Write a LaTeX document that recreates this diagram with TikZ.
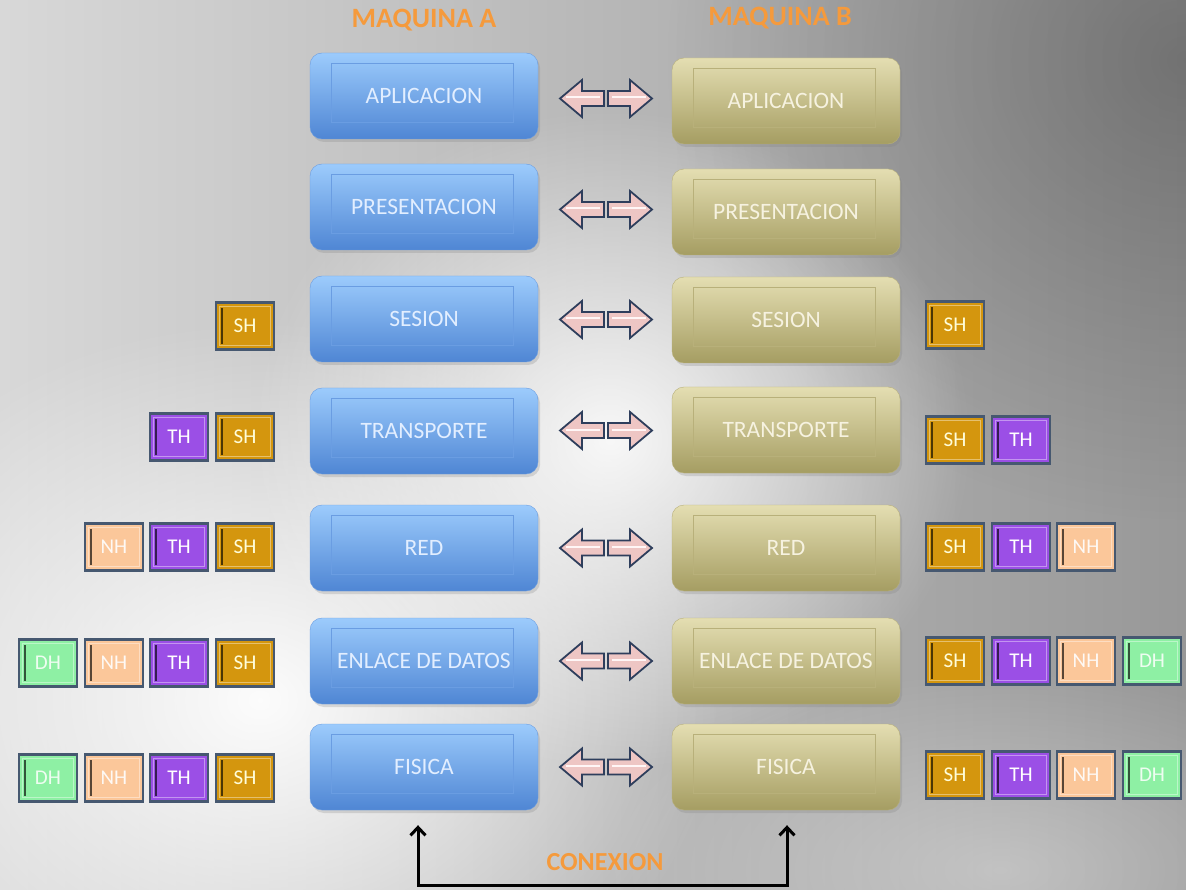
\documentclass[tikz,border=0pt]{standalone}
\usepackage{fontspec}
\setmainfont{Carlito}
\usetikzlibrary{calc,fadings,arrows.meta,shadows}
\tikzfading[name=softspot, inner color=transparent!0, outer color=transparent!100]
\definecolor{bgL}{HTML}{D8D8D8}
\definecolor{bgR}{HTML}{989898}
\definecolor{aTop}{HTML}{9CCBFC}
\definecolor{aMid}{HTML}{80B4F2}
\definecolor{aBot}{HTML}{4F86D4}
\definecolor{aLine}{HTML}{6A9DE2}
\definecolor{aText}{HTML}{E2EEFF}
\definecolor{bTop}{HTML}{E4DEB2}
\definecolor{bMid}{HTML}{D6D0A0}
\definecolor{bBot}{HTML}{A59D62}
\definecolor{bLine}{HTML}{B8B07A}
\definecolor{bText}{HTML}{F6F2E0}
\definecolor{cSH}{HTML}{D4960E}
\definecolor{cTH}{HTML}{9B4FE6}
\definecolor{cNH}{HTML}{FBC79A}
\definecolor{cDH}{HTML}{8EF0A4}
\definecolor{hdrB}{HTML}{465870}
\definecolor{arrF}{HTML}{EEC6C4}
\definecolor{arrL}{HTML}{2E3E5C}
\definecolor{ttl}{HTML}{F59A3C}
\tikzset{
  layerbox/.style={rounded corners=12pt, minimum width=228pt, minimum height=86pt,
    inner sep=0pt, font=\fontsize{23.5}{26}\selectfont,
    drop shadow={opacity=0.25, shadow xshift=2pt, shadow yshift=-3pt}},
  boxA/.style={layerbox, top color=aTop, middle color=aMid, bottom color=aBot, draw=aLine, text=aText},
  boxB/.style={layerbox, top color=bTop, middle color=bMid, bottom color=bBot, draw=bLine, text=bText},
  hdr/.style={draw=hdrB, line width=2.5pt, minimum width=58pt, minimum height=47pt,
    inner sep=0pt, font=\fontsize{21}{23}\selectfont},
  arrpart/.style={fill=arrF, draw=arrL, line width=1.8pt, line join=miter},
  ttlstyle/.style={font=\bfseries\fontsize{28}{30}\selectfont, text=ttl},
  conn/.style={line width=3pt, {Straight Barb[length=8pt,width=15pt]}-{Straight Barb[length=8pt,width=15pt]},
    shorten <=15pt, shorten >=15pt},
}
\newcommand\hdrbox[6]{% name, x, y, color, textcolor, text
  \node[hdr, fill=#4, text=#5] (#1) at (#2,#3) {#6};
  \draw[#4!60!white, line width=1pt] ([shift={(5,5)}]#1.north west) rectangle ([shift={(-5,-5)}]#1.south east);
  \draw[#4!35!black, line width=1.5pt] ([shift={(7,7)}]#1.north west) -- ([shift={(7,-7)}]#1.south west);
}
\newcommand\dblarr[1]{%
  \draw[arrpart] ($(#1)+(-2,-7.5)$) -- ++(-22,0) -- ++(0,-11) -- ++(-22,18.5) -- ++(22,18.5) -- ++(0,-11) -- ++(22,0) -- cycle;
  \draw[arrpart] ($(#1)+(2,-7.5)$) -- ++(22,0) -- ++(0,-11) -- ++(22,18.5) -- ++(-22,18.5) -- ++(0,-11) -- ++(-22,0) -- cycle;
  \draw[white!85!pink, line width=2pt] ($(#1)+(-6,-1)$) -- ++(-34,0);
  \draw[white!85!pink, line width=2pt] ($(#1)+(6,-1)$) -- ++(34,0);
}
\begin{document}
\begin{tikzpicture}[x=1pt,y=-1pt]
\useasboundingbox (0,0) rectangle (1186,890);
\shade[left color=bgL, right color=bgR] (0,0) rectangle (1186,890);
\fill[black, path fading=softspot, opacity=0.25] (1186,60) ellipse (520 and 460);
\fill[white, path fading=softspot, opacity=0.95] (260,700) ellipse (460 and 380);
\fill[white, path fading=softspot, opacity=0.9] (610,440) ellipse (360 and 330);
\fill[white, path fading=softspot, opacity=0.35] (1000,870) ellipse (400 and 200);

% titles
\node[ttlstyle] (tA) at (424,20) {MAQUINA A};
\node[ttlstyle] (tB) at (780,18) {MAQUINA B};
\node[ttlstyle, font=\bfseries\fontsize{26}{28}\selectfont] (tC) at (605,862) {CONEXION};

% layers
\foreach \n/\t/\ya/\yb in {1/APLICACION/96/101, 2/PRESENTACION/207/212, 3/SESION/319/320,
  4/TRANSPORTE/431/430, 5/RED/548/548, 6/ENLACE DE DATOS/661/661, 7/FISICA/767/767}{
  \node[boxA] (A\n) at (424,\ya) {\t};
  \draw[aLine, line width=0.8pt] ([shift={(22,11)}]A\n.north west) rectangle ([shift={(-25,-17)}]A\n.south east);
  \node[boxB] (B\n) at (786,\yb) {\t};
  \draw[bLine, line width=0.8pt] ([shift={(22,11)}]B\n.north west) rectangle ([shift={(-25,-17)}]B\n.south east);
  \coordinate (m\n) at ($(A\n.east)!0.5!(B\n.west)+(1,0)$);
  \dblarr{m\n}
}

% headers left
\hdrbox{LS3}{245}{326}{cSH}{white!85!yellow}{SH}
\hdrbox{LT4}{179}{437}{cTH}{white}{TH}
\hdrbox{LS4}{245}{437}{cSH}{white!85!yellow}{SH}
\hdrbox{LN5}{114}{547}{cNH}{white!90!cNH}{NH}
\hdrbox{LT5}{179}{547}{cTH}{white}{TH}
\hdrbox{LS5}{245}{547}{cSH}{white!85!yellow}{SH}
\hdrbox{LD6}{48}{663}{cDH}{white!85!cDH}{DH}
\hdrbox{LN6}{114}{663}{cNH}{white!90!cNH}{NH}
\hdrbox{LT6}{179}{663}{cTH}{white}{TH}
\hdrbox{LS6}{245}{663}{cSH}{white!85!yellow}{SH}
\hdrbox{LD7}{48}{778}{cDH}{white!85!cDH}{DH}
\hdrbox{LN7}{114}{778}{cNH}{white!90!cNH}{NH}
\hdrbox{LT7}{179}{778}{cTH}{white}{TH}
\hdrbox{LS7}{245}{778}{cSH}{white!85!yellow}{SH}

% headers right
\hdrbox{RS3}{955}{325}{cSH}{white!85!yellow}{SH}
\hdrbox{RS4}{955}{440}{cSH}{white!85!yellow}{SH}
\hdrbox{RT4}{1021}{440}{cTH}{white}{TH}
\hdrbox{RS5}{955}{547}{cSH}{white!85!yellow}{SH}
\hdrbox{RT5}{1021}{547}{cTH}{white}{TH}
\hdrbox{RN5}{1086}{547}{cNH}{white!90!cNH}{NH}
\hdrbox{RS6}{955}{661}{cSH}{white!85!yellow}{SH}
\hdrbox{RT6}{1021}{661}{cTH}{white}{TH}
\hdrbox{RN6}{1086}{661}{cNH}{white!90!cNH}{NH}
\hdrbox{RD6}{1152}{661}{cDH}{white!85!cDH}{DH}
\hdrbox{RS7}{955}{775}{cSH}{white!85!yellow}{SH}
\hdrbox{RT7}{1021}{775}{cTH}{white}{TH}
\hdrbox{RN7}{1086}{775}{cNH}{white!90!cNH}{NH}
\hdrbox{RD7}{1152}{775}{cDH}{white!85!cDH}{DH}

% connection
\coordinate (cL) at (418,885);
\coordinate (cR) at (787,885);
\draw[conn] (A7.south -| cL) -- (cL) -- (cR) -- (B7.south -| cR);
\end{tikzpicture}
\end{document}
